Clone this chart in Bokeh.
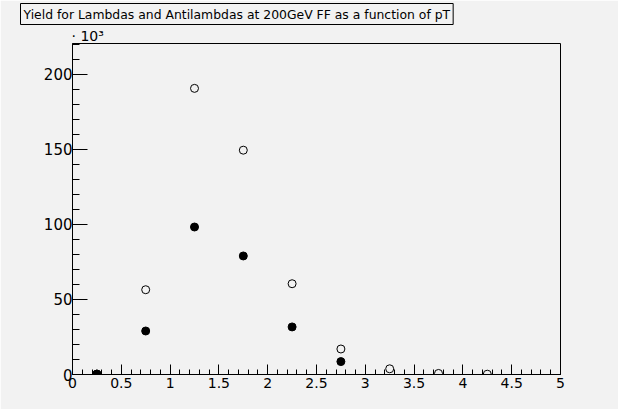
from bokeh.plotting import figure
from bokeh.models import Title, FixedTicker, Range1d
from bokeh.embed import file_html
from bokeh.resources import INLINE

# Data (yield in units of 10^3)
pt_open = [0.25, 0.75, 1.25, 1.75, 2.25, 2.75, 3.25, 3.75, 4.25]
yield_open = [0.3, 56.5, 190.7, 149.5, 60.5, 17.0, 3.8, 0.7, 0.2]
pt_filled = [0.25, 0.75, 1.25, 1.75, 2.25, 2.75]
yield_filled = [0.3, 29.0, 98.3, 79.0, 31.7, 8.6]

x_ticks = [0, 0.5, 1, 1.5, 2, 2.5, 3, 3.5, 4, 4.5, 5]
y_ticks = [0, 50, 100, 150, 200]
title_text = "Yield for Lambdas and Antilambdas at 200GeV FF as a function of pT"
exponent_text = "\u00b7 10\u00b3"

BG = "#f2f2f2"
FONT = "DejaVu Sans"

p = figure(width=618, height=409, output_backend="svg", toolbar_location=None,
           x_range=Range1d(0, 5), y_range=Range1d(0, 220.6), title=None,
           min_border_left=72, min_border_right=58, min_border_top=42, min_border_bottom=35)
p.background_fill_color = BG
p.border_fill_color = BG
p.outline_line_color = "black"
p.outline_line_width = 1
p.grid.visible = False

for ax in (p.xaxis[0], p.yaxis[0]):
    ax.axis_line_color = "black"
    ax.major_tick_line_color = "black"
    ax.minor_tick_line_color = "black"
    ax.major_tick_out = 0
    ax.minor_tick_out = 0
    ax.major_label_text_font = FONT
    ax.major_label_text_color = "black"

p.xaxis.ticker = FixedTicker(ticks=x_ticks, minor_ticks=[i / 10 for i in range(0, 51)])
p.xaxis.major_tick_in = 10
p.xaxis.minor_tick_in = 5
p.xaxis.major_label_standoff = 3
p.xaxis.major_label_text_font_size = "14px"
p.xaxis.major_label_overrides = {t: ("%g" % t) for t in x_ticks}

p.yaxis.ticker = FixedTicker(ticks=y_ticks, minor_ticks=list(range(0, 221, 10)))
p.yaxis.major_tick_in = 15
p.yaxis.minor_tick_in = 7
p.yaxis.major_label_standoff = 0
p.yaxis.major_label_text_font_size = "15px"

p.scatter(pt_filled, yield_filled, marker="circle", size=8,
          fill_color="black", line_color="black")
p.scatter(pt_open, yield_open, marker="circle", size=8,
          fill_color=None, line_color="black", line_width=1)

# exponent (closest to frame) and boxed title above it
p.add_layout(Title(text=exponent_text, align="left", offset=-1, standoff=0,
                   text_font=FONT, text_font_size="14px", text_font_style="normal",
                   text_color="black"), "above")
p.add_layout(Title(text=title_text, align="left", offset=-52, standoff=2,
                   text_font=FONT, text_font_size="12.4px", text_font_style="normal",
                   text_color="black", border_line_color="black", border_line_width=1,
                   background_fill_color=BG, padding=3), "above")

open("out.html", "w").write(file_html(p, INLINE))
